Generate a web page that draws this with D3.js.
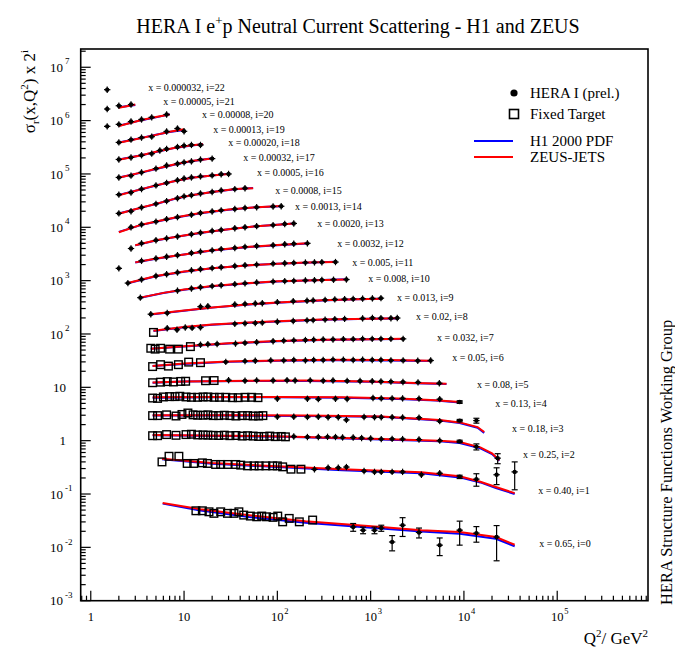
<!DOCTYPE html>
<meta charset="utf-8">
<style>
body { margin: 0; background: #fff; }
text { font-family: "Liberation Serif", "DejaVu Serif", serif; fill: #000; }
.frame { fill: none; stroke: #000; stroke-width: 1.6px; }
.tick { stroke: #000; stroke-width: 1.2px; }
.h1 { fill: none; stroke: #0000ff; stroke-width: 2px; }
.zeus { fill: none; stroke: #ff0000; stroke-width: 2px; }
.fixed { fill: none; stroke: #000; stroke-width: 1.4px; }
.bar { stroke: #000; stroke-width: 1.2px; }
</style>
<body>
<script src="https://d3js.org/d3.v7.min.js"></script>
<script>

// bin labels, index = i (sigma is multiplied by 2^i)
var xBins = ["0.65","0.40","0.25","0.18","0.13","0.08","0.05","0.032","0.02","0.013","0.008","0.005",
  "0.0032","0.0020","0.0013","0.0008","0.0005","0.00032","0.00020","0.00013","0.00008","0.00005","0.000032"];

// HERA I points: [Q2, sigma_r * 2^i, error (optional)]
var heraPoints = [
  [[650,0.024,0.004],[830,0.021,0.003],[1100,0.021,0.003],[1300,0.023,0.003],[1700,0.0126,0.004],[2200,0.026,0.01],[3300,0.019,0.004],[5500,0.011,0.004],[9000,0.021,0.01],[13600,0.0185,0.006],[22400,0.0156,0.01]],
  [[250,0.29],[350,0.31],[450,0.31],[550,0.32],[850,0.27],[1100,0.26],[1300,0.26],[1700,0.26],[2200,0.26],[3500,0.23],[5500,0.245],[9000,0.21,0.015],[13600,0.19,0.05],[22400,0.23,0.08],[35000,0.26,0.14]],
  [[150,1.2],[210,1.17],[275,1.17],[345,1.18],[420,1.17],[500,1.15],[650,1.15],[800,1.12],[1000,1.1],[1300,1.07],[1700,1.08],[2200,1.07],[3300,1.05],[5500,1.0],[9000,0.97,0.05],[13600,0.77,0.1],[23000,0.47,0.1]],
  [[100,2.8],[150,2.8],[210,2.78],[275,2.8],[350,2.75],[450,2.75],[550,2.45],[850,2.78],[1100,2.75],[1300,2.75],[1700,2.75],[2200,2.72],[3300,2.7],[5500,2.32],[9000,2.38,0.12],[13600,2.38,0.25]],
  [[100,6.1],[210,6.1],[275,6.0],[420,6.1],[560,6.05],[1060,6.3],[1300,6.2],[1700,6.2],[2200,6.2],[3300,6.15],[5500,6.0],[9000,5.3,0.3]],
  [[30,13.6],[45,13.3],[60,13.5],[90,13.4],[127,13.6],[155,13.4],[225,13.5],[310,13.3],[395,13.4],[560,13.2],[770,13.1],[1040,13.0],[1290,12.9],[1650,12.8],[2220,12.6],[3220,12.4],[5450,11.9]],
  [[28,30],[45,31],[58,31.5],[85,32],[117,32],[150,32.5],[200,32],[245,32.5],[310,32.5],[395,33],[510,33],[650,32.5],[820,33],[1040,32.5],[1290,32.5],[1650,32],[2230,32],[3200,31.5],[4400,31.8]],
  [[15,63],[18,64],[22.6,65],[35.6,66],[45,68],[60,70],[90,73],[117,75],[150,76],[200,77],[245,78],[310,79],[395,79],[510,80],[650,80],[820,81],[1040,81],[1290,81],[1650,81],[2230,81]],
  [[6.6,128],[8.4,120],[10.3,132],[12.2,130],[15,133],[35,155],[45,158],[58,160],[69,163],[100,170],[148,175],[208,180],[242,182],[325,186],[413,190],[526,192],[820,196],[1045,200],[1290,198],[1650,197],[1930,199]],
  [[4.4,235],[6.6,247],[15,325],[18,330],[35,358],[45,365],[58,372],[69,378],[100,395],[148,410],[208,420],[242,425],[325,435],[413,445],[526,450],[650,455],[820,460],[1045,465],[1290,470]],
  [[3.4,480],[8.5,650],[12,710],[15,750],[20,790],[25,820],[35,860],[45,890],[60,920],[90,960],[120,980],[150,990],[200,1010],[250,1020],[300,1030],[400,1040],[550,1050]],
  [[2.5,900],[3.5,1050],[5,1220],[6.5,1320],[8.5,1420],[12,1560],[15,1640],[20,1720],[25,1780],[35,1880],[45,1940],[60,2000],[90,2080],[120,2120],[150,2150],[200,2180],[250,2200],[300,2210],[420,2230]],
  [[2,1700],[3.5,2350],[5,2600],[6.5,2800],[8.5,3000],[12,3300],[15,3500],[20,3700],[25,3900],[35,4100],[45,4300],[60,4450],[90,4600],[120,4800],[150,4900],[210,5000]],
  [[2.7,4000],[3.5,5000],[5,5700],[6.5,6200],[8.5,6700],[12,7400],[15,7900],[20,8500],[25,8900],[35,9600],[45,10000],[60,10500],[90,11000],[120,11500],[150,11800]],
  [[2.7,10000],[3.5,11300],[5,12800],[6.5,14200],[8.5,15500],[12,17200],[15,18500],[20,19800],[25,20800],[35,22000],[45,23000],[60,23800],[90,24500],[110,24800]],
  [[2,18200],[2.7,20000],[3.5,23600],[5,27500],[6.5,31000],[8.5,35000],[10,38000],[12,40000],[15,43000],[20,46000],[25,49000],[35,52000],[45,54000]],
  [[2,41000],[2.7,45000],[3.5,52000],[5,61000],[6.5,68000],[8.5,76000],[10,82000],[12,86000],[15,90000],[20,94000],[25,99000],[30,100000]],
  [[2,86000],[2.7,93000],[3.5,107000],[5,126000],[6.5,144000],[8.5,155000],[10,165000],[12,172000],[15,186000],[20,194000]],
  [[2,187000],[2.7,204000],[3.5,224000],[4.5,240000],[5.5,275000],[6.5,295000],[8.5,320000],[10,340000],[12,350000],[15,350000]],
  [[2,390000],[2.7,440000],[3.5,480000],[4.5,500000],[6.5,625000],[8.5,710000],[10,630000]],
  [[1.5,780000],[2,850000],[2.7,960000],[3.5,1050000],[4.5,1150000],[6.5,1300000]],
  [[1.5,1650000],[2,1900000],[2.7,2000000]],
  [[1.5,3800000]]
];

// fixed target points: [Q2, sigma_r * 2^i]
var fixedPoints = [
  [[13.4,0.0485],[15.7,0.0485],[18.5,0.0464],[20.9,0.0434],[24.7,0.0464],[29.2,0.0434],[34.3,0.0434],[38.7,0.0464],[43.6,0.0403],[51.4,0.0386],[60.1,0.0374],[68,0.0386],[76.6,0.0374],[90,0.0365],[101,0.0386],[114,0.0301],[134,0.0349],[172,0.0301],[239,0.0325]],
  [[5.8,0.40],[6.9,0.51],[8.8,0.51],[10.8,0.374],[12.7,0.374],[15.7,0.384],[17.8,0.374],[21.8,0.358],[24.7,0.358],[29.2,0.358],[35.8,0.358],[40.5,0.348],[47.8,0.337],[56.3,0.337],[63.8,0.337],[75.4,0.337],[89,0.337],[100,0.337],[114,0.323],[140,0.292],[179,0.292]],
  [[4.6,1.24],[5.2,1.24],[6.5,1.3],[8.2,1.26],[10.5,1.3],[12,1.32],[14,1.28],[16,1.28],[18,1.27],[20.5,1.26],[23.5,1.25],[27,1.27],[31,1.24],[36,1.25],[42,1.22],[48,1.24],[55,1.22],[63,1.2],[72,1.2],[83,1.22],[95,1.19],[110,1.2],[122,1.18]],
  [[4.6,2.95],[5.2,2.95],[6.5,3.05],[8.2,2.9],[9.5,3.1],[11,3.3],[12.5,3.05],[14,3.0],[16,3.0],[18,3.05],[20.5,2.95],[23.5,2.95],[27,3.0],[31,2.95],[36,2.9],[42,2.95],[48,2.95],[55,2.9],[63,2.9],[70,2.95]],
  [[4.6,6.3],[5.2,6.2],[6,6.6],[7,6.7],[8,6.7],[9,6.8],[10.5,6.6],[12,6.5],[14,6.5],[16,6.6],[18,6.6],[21,6.5],[24,6.5],[28,6.5],[33,6.4],[38,6.4],[45,6.5],[53,6.5],[62,6.4]],
  [[4.6,12.2],[5.6,12.5],[6.6,12.8],[7.7,12.6],[9.2,12.9],[10.4,13],[17,13.3],[21,13.4]],
  [[4.6,24.5],[5.6,26.6],[6.8,25],[8.7,26.6],[11.2,29.7],[15,29]],
  [[4.4,54],[4.9,52],[5.6,54],[7,52],[8.7,52],[11.7,58]],
  [[4.7,107]],
  [],[],[],[],[],[],[],[],[],[],[],[],[],[]
];

// theory curves: Q2 knots and sigma_r * 2^i for ZEUS-JETS and H1 2000 PDF
var theoryQ2 = [
  [5.9,15,50,200,1300,3500,9000,22000,35000],
  [5.8,20,100,500,3500,9000,15000,22000,35000],
  [4.6,30,120,1300,5500,9000,15000,20000,24000],
  [4.6,30,200,1300,5500,9000,14000,16500],
  [4.6,20,100,500,2000,5000,9000],
  [4.6,10,50,200,1000,3000,6500],
  [4.6,10,30,100,400,1500,4500],
  [4.4,10,30,100,300,1000,2200],
  [4.7,10,20,50,100,300,1000,2000],
  [4.4,10,20,50,100,300,700,1300],
  [3.4,6,10,20,50,100,250,550],
  [2.5,5,10,20,50,100,200,420],
  [3,5,10,20,50,100,210],
  [3,5,8,15,30,60,100,150],
  [2,3.5,5,8,15,30,60,110],
  [2,3.5,5,8,12,20,35,55],
  [2,3.5,5,8,12,20,30],
  [2,3.5,5,8,12,21],
  [2,3.5,5,8,12,16],
  [2,3.5,5,7,10],
  [2,3.5,5,7],
  [2,2.5,3],
  []
];
var zeusSigma = [
  [0.068,0.052,0.040,0.031,0.024,0.021,0.0195,0.0156,0.0112],
  [0.46,0.38,0.33,0.29,0.255,0.215,0.17,0.135,0.104],
  [1.28,1.24,1.2,1.08,1.0,0.94,0.75,0.58,0.43],
  [3.0,3.0,2.95,2.85,2.45,2.2,1.8,1.45],
  [6.5,6.6,6.6,6.5,6.15,5.75,5.3],
  [12.3,12.9,13.3,13.4,12.9,12.1,11.7],
  [25,28,30.5,32,33,32.5,31.5],
  [53,59,67,74,78,80,81],
  [115,135,150,164,174,186,194,197],
  [235,275,315,360,390,428,448,458],
  [480,590,680,790,900,970,1020,1050],
  [900,1220,1480,1710,1950,2080,2180,2240],
  [2200,2600,3100,3700,4300,4650,5000],
  [4600,5700,6600,7900,9200,10500,11200,11800],
  [8100,11200,12800,15200,18500,21500,23800,25000],
  [18000,23500,27500,34500,40000,46000,52000,54000],
  [40000,52000,61000,74000,85000,94000,100000],
  [85000,107000,125000,152000,175000,197000],
  [185000,225000,260000,310000,345000,360000],
  [385000,470000,540000,620000,690000],
  [790000,1030000,1170000,1300000],
  [1750000,1880000,2000000],
  []
];
var h1Sigma = [
  [0.066,0.049,0.037,0.029,0.0225,0.0198,0.018,0.0145,0.0105],
  [0.45,0.37,0.32,0.28,0.245,0.205,0.165,0.13,0.1],
  [1.26,1.22,1.18,1.05,0.97,0.9,0.72,0.56,0.42],
  [2.95,2.95,2.9,2.8,2.4,2.15,1.75,1.4],
  [6.4,6.5,6.5,6.4,6.05,5.65,5.2],
  [12.2,12.8,13.2,13.2,12.7,11.9,11.5],
  [25,27.5,30,31.5,32.2,31.8,31],
  [53,58.5,66,73,77,79.5,80.5],
  [114,134,149,162,172,184,193,196],
  [233,273,312,356,387,424,446,456],
  [478,585,675,785,895,965,1015,1060],
  [895,1210,1470,1700,1940,2075,2170,2250],
  [2180,2580,3080,3680,4280,4630,4980],
  [4580,5650,6550,7850,9150,10450,11150,11750],
  [8200,11100,12700,15100,18400,21400,23700,24900],
  [18200,23400,27300,34300,39800,45800,51800,54500],
  [40500,51800,60800,73500,84500,93500,101000],
  [86000,106000,124000,150000,173000,199000],
  [186000,224000,258000,308000,343000,362000],
  [390000,475000,545000,610000,670000],
  [800000,1020000,1150000,1320000],
  [1780000,1870000,1970000],
  []
];

// where each bin label sits: [Q2, sigma]
var labelQ2 = [64000,62500,43100,32800,21600,13800,7480,5160,3070,1920,940,634,438,267,155,94.7,60.7,43,29.7,20.5,15.6,5.97,4.12];
var labelSigma = [0.012,0.118,0.56,1.71,5.03,11.4,36.7,87,214,487,1100,2190,4970,11700,24400,48700,106000,204000,396000,695000,1330000,2320000,4200000];

// axis tick labels: [value, base, exponent]
var xTickLabels = [[1,"1",""],[10,"10",""],[100,"10","2"],[1000,"10","3"],[1e4,"10","4"],[1e5,"10","5"]];
var yTickLabels = [[1e-3,"10","-3"],[1e-2,"10","-2"],[1e-1,"10","-1"],[1,"1",""],[10,"10",""],[100,"10","2"],
  [1e3,"10","3"],[1e4,"10","4"],[1e5,"10","5"],[1e6,"10","6"],[1e7,"10","7"]];

var width = 675, height = 652;
var plotLeft = 80.7, plotRight = 648, plotTop = 49, plotBottom = 600.7;

var svg = d3.select("body").append("svg")
    .attr("width", width)
    .attr("height", height);

var x = d3.scaleLog().domain([0.78, 9.4e5]).range([plotLeft, plotRight]);
var y = d3.scaleLog().domain([1e-3, 2.2e7]).range([plotBottom, plotTop]);

function isMajor(v) {
  var l = Math.log10(v);
  return Math.abs(l - Math.round(l)) < 1e-6;
}

// ticks, inside the frame
svg.selectAll(".xtick").data(x.ticks(60)).enter().append("line")
  .attr("class", "tick")
  .attr("x1", function(d){ return x(d); })
  .attr("x2", function(d){ return x(d); })
  .attr("y1", plotBottom)
  .attr("y2", function(d){ return plotBottom - (isMajor(d) ? 10 : 5); });

svg.selectAll(".ytick").data(y.ticks(60)).enter().append("line")
  .attr("class", "tick")
  .attr("y1", function(d){ return y(d); })
  .attr("y2", function(d){ return y(d); })
  .attr("x1", plotLeft)
  .attr("x2", function(d){ return plotLeft + (isMajor(d) ? 10 : 5); });

// tick labels
xTickLabels.forEach(function(t){
  var px = x(t[0]);
  svg.append("text").attr("x", px).attr("y", 621)
    .attr("text-anchor", "middle").style("font-size", "12.5px").text(t[1]);
  if (t[2]) {
    svg.append("text").attr("x", px + 7).attr("y", 614)
      .style("font-size", "8.5px").text(t[2]);
  }
});

yTickLabels.forEach(function(t){
  var py = y(t[0]);
  var sup = t[2] !== "";
  svg.append("text").attr("x", sup ? 63 : 66).attr("y", py).attr("dy", "0.35em")
    .attr("text-anchor", "end").style("font-size", "13px").text(t[1]);
  if (sup) {
    svg.append("text").attr("x", 65).attr("y", py - 6).attr("dy", "0.35em")
      .style("font-size", "9px").text(t[2]);
  }
});

var line = d3.line()
  .x(function(d){ return x(d[0]); })
  .y(function(d){ return y(d[1]); });

// theory curves
theoryQ2.forEach(function(qs, i){
  if (!qs.length) return;
  svg.append("path").attr("class", "h1")
    .attr("d", line(qs.map(function(q, k){ return [q, h1Sigma[i][k]]; })));
  svg.append("path").attr("class", "zeus")
    .attr("d", line(qs.map(function(q, k){ return [q, zeusSigma[i][k]]; })));
});

// fixed target squares
var fixedAll = [];
fixedPoints.forEach(function(s){ s.forEach(function(p){ fixedAll.push(p); }); });
svg.selectAll(".fixed").data(fixedAll).enter().append("rect")
  .attr("class", "fixed")
  .attr("x", function(d){ return x(d[0]) - 3.8; })
  .attr("y", function(d){ return y(d[1]) - 3.8; })
  .attr("width", 7.6)
  .attr("height", 7.6);

// HERA points
var heraAll = [];
heraPoints.forEach(function(s){ s.forEach(function(p){ heraAll.push(p); }); });
var pts = svg.selectAll(".hera").data(heraAll).enter().append("g");
pts.append("line").attr("class", "bar")
  .attr("x1", function(d){ return x(d[0]); })
  .attr("x2", function(d){ return x(d[0]); })
  .attr("y1", function(d){ return d[2] ? y(Math.max(d[1] - d[2], 1e-4)) : y(d[1]) + 3.2; })
  .attr("y2", function(d){ return d[2] ? y(d[1] + d[2]) : y(d[1]) - 3.2; });
pts.append("line").attr("class", "bar")
  .attr("x1", function(d){ return x(d[0]) - 3.2; })
  .attr("x2", function(d){ return x(d[0]) + 3.2; })
  .attr("y1", function(d){ return y(d[1]); })
  .attr("y2", function(d){ return y(d[1]); });
pts.filter(function(d){ return d[2]; }).each(function(d){
  var g = d3.select(this);
  [d[1] - d[2], d[1] + d[2]].forEach(function(v){
    g.append("line").attr("class", "bar")
      .attr("x1", x(d[0]) - 3).attr("x2", x(d[0]) + 3)
      .attr("y1", y(Math.max(v, 1e-4))).attr("y2", y(Math.max(v, 1e-4)));
  });
});
pts.append("circle")
  .attr("cx", function(d){ return x(d[0]); })
  .attr("cy", function(d){ return y(d[1]); })
  .attr("r", 2.2);

// bin labels
xBins.forEach(function(b, i){
  svg.append("text")
    .attr("x", x(labelQ2[i]))
    .attr("y", y(labelSigma[i]))
    .attr("dy", "0.35em")
    .style("font-size", "10px")
    .text("x = " + b + ", i=" + i);
});

// frame
svg.append("rect").attr("class", "frame")
  .attr("x", plotLeft).attr("y", plotTop)
  .attr("width", plotRight - plotLeft).attr("height", plotBottom - plotTop);

// title
var title = svg.append("text").attr("x", 358).attr("y", 33)
  .attr("text-anchor", "middle").style("font-size", "20px");
title.append("tspan").text("HERA I e");
title.append("tspan").attr("dy", -8).style("font-size", "13px").text("+");
title.append("tspan").attr("dy", 8).text("p Neutral Current Scattering - H1 and ZEUS");

// y axis title
var ytitle = svg.append("text")
  .attr("transform", "translate(35,50) rotate(-90)")
  .attr("text-anchor", "end").style("font-size", "17px");
ytitle.append("tspan").text("\u03c3");
ytitle.append("tspan").attr("dy", 4).style("font-size", "11px").text("r");
ytitle.append("tspan").attr("dy", -4).text("(x,Q");
ytitle.append("tspan").attr("dy", -7).style("font-size", "11px").text("2");
ytitle.append("tspan").attr("dy", 7).text(") x 2");
ytitle.append("tspan").attr("dy", -7).style("font-size", "11px").text("i");

// x axis title
var xtitle = svg.append("text").attr("x", 648).attr("y", 644)
  .attr("text-anchor", "end").style("font-size", "17px");
xtitle.append("tspan").text("Q");
xtitle.append("tspan").attr("dy", -7).style("font-size", "11px").text("2");
xtitle.append("tspan").attr("dy", 7).text("/ GeV");
xtitle.append("tspan").attr("dy", -7).style("font-size", "11px").text("2");

// side label
svg.append("text")
  .attr("transform", "translate(672,605) rotate(-90)")
  .style("font-size", "16.5px")
  .text("HERA Structure Functions Working Group");

// legend
svg.append("circle").attr("cx", 514).attr("cy", 93).attr("r", 3.6);
svg.append("rect").attr("class", "fixed").attr("x", 509.5).attr("y", 109.5)
  .attr("width", 9).attr("height", 9).style("stroke-width", "1.6px");
svg.append("line").attr("class", "h1").attr("x1", 474).attr("x2", 513).attr("y1", 141).attr("y2", 141);
svg.append("line").attr("class", "zeus").attr("x1", 474).attr("x2", 513).attr("y1", 157).attr("y2", 157);
var legendText = ["HERA I (prel.)", "Fixed Target", "H1 2000 PDF", "ZEUS-JETS"];
var legendY = [98, 119, 146, 162];
legendText.forEach(function(t, k){
  svg.append("text").attr("x", 530).attr("y", legendY[k]).style("font-size", "15px").text(t);
});

</script>
